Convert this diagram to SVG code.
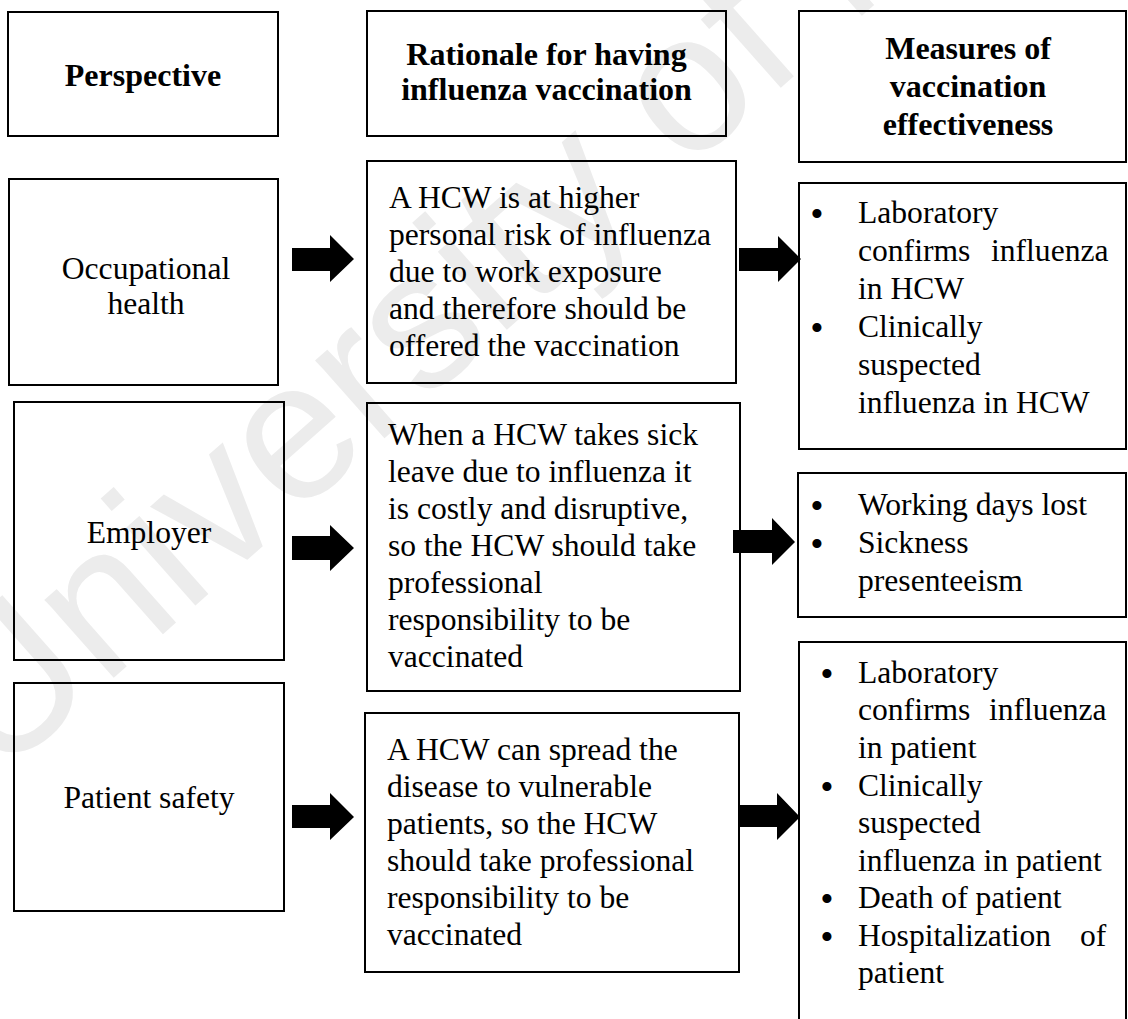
<svg xmlns="http://www.w3.org/2000/svg" width="1128" height="1019" viewBox="0 0 1128 1019">
<style>
.box{fill:none;stroke:#000;stroke-width:2}
.t{font-family:"Liberation Serif","Times New Roman",serif;font-size:31.6px;fill:#000}
.b{font-weight:bold;font-size:32px}
.c{text-anchor:middle}
.bul{font-family:"Liberation Serif","Times New Roman",serif;font-size:38px;fill:#000;text-anchor:middle}
.arrow{fill:#000}
.wm{font-family:"Liberation Sans",Arial,sans-serif;font-size:197px;fill:#ececec}
</style>
<rect width="1128" height="1019" fill="#fff"/>
<g id="watermark">
<text class="wm" transform="translate(-3,781) rotate(-41.5)">University of Malaya</text>
</g>
<g id="header-perspective">
<rect class="box" x="8" y="12" width="270" height="124"/>
<text class="t b c" x="143" y="86">Perspective</text>
</g>
<g id="header-rationale">
<rect class="box" x="367" y="11" width="359" height="125"/>
<text class="t b c" x="546.5" y="65">Rationale for having</text>
<text class="t b c" x="546.5" y="100">influenza vaccination</text>
</g>
<g id="header-measures">
<rect class="box" x="799" y="11" width="327" height="151"/>
<text class="t b c" x="968" y="59">Measures of</text>
<text class="t b c" x="968" y="97">vaccination</text>
<text class="t b c" x="968" y="135">effectiveness</text>
</g>
<g id="node-occupational">
<rect class="box" x="9" y="179" width="269" height="206"/>
<text class="t c" x="146" y="279">Occupational</text>
<text class="t c" x="146" y="314">health</text>
</g>
<g id="node-employer">
<rect class="box" x="14" y="402" width="270" height="258"/>
<text class="t c" x="149" y="543">Employer</text>
</g>
<g id="node-patient">
<rect class="box" x="14" y="683" width="270" height="228"/>
<text class="t c" x="149" y="808">Patient safety</text>
</g>
<g id="rationale-occupational">
<rect class="box" x="367" y="161" width="369" height="222"/>
<text class="t" x="389" y="208">A HCW is at higher</text>
<text class="t" x="389" y="245">personal risk of influenza</text>
<text class="t" x="389" y="282">due to work exposure</text>
<text class="t" x="389" y="319">and therefore should be</text>
<text class="t" x="389" y="356">offered the vaccination</text>
</g>
<g id="rationale-employer">
<rect class="box" x="367" y="403" width="373" height="288"/>
<text class="t" x="388" y="445">When a HCW takes sick</text>
<text class="t" x="388" y="482">leave due to influenza it</text>
<text class="t" x="388" y="519">is costly and disruptive,</text>
<text class="t" x="388" y="556">so the HCW should take</text>
<text class="t" x="388" y="593">professional</text>
<text class="t" x="388" y="630">responsibility to be</text>
<text class="t" x="388" y="667">vaccinated</text>
</g>
<g id="rationale-patient">
<rect class="box" x="365" y="713" width="374" height="259"/>
<text class="t" x="387" y="760">A HCW can spread the</text>
<text class="t" x="387" y="797">disease to vulnerable</text>
<text class="t" x="387" y="834">patients, so the HCW</text>
<text class="t" x="387" y="871">should take professional</text>
<text class="t" x="387" y="908">responsibility to be</text>
<text class="t" x="387" y="945">vaccinated</text>
</g>
<g id="measures-occupational">
<rect class="box" x="799" y="183" width="327" height="266"/>
<text class="bul" x="817" y="227">•</text>
<text class="t" x="858" y="223">Laboratory</text>
<text class="t" x="858" y="261">confirms</text>
<text class="t" x="991" y="261">influenza</text>
<text class="t" x="858" y="299">in HCW</text>
<text class="bul" x="817" y="341">•</text>
<text class="t" x="858" y="337">Clinically</text>
<text class="t" x="858" y="375">suspected</text>
<text class="t" x="858" y="413">influenza in HCW</text>
</g>
<g id="measures-employer">
<rect class="box" x="798" y="473" width="328" height="144"/>
<text class="bul" x="817" y="519">•</text>
<text class="t" x="858" y="515">Working days lost</text>
<text class="bul" x="817" y="557">•</text>
<text class="t" x="858" y="553">Sickness</text>
<text class="t" x="858" y="591">presenteeism</text>
</g>
<g id="measures-patient">
<rect class="box" x="799" y="642" width="327" height="420"/>
<text class="bul" x="827" y="687">•</text>
<text class="t" x="858" y="683">Laboratory</text>
<text class="t" x="858" y="720">confirms</text>
<text class="t" x="989" y="720">influenza</text>
<text class="t" x="858" y="758">in patient</text>
<text class="bul" x="827" y="800">•</text>
<text class="t" x="858" y="796">Clinically</text>
<text class="t" x="858" y="833">suspected</text>
<text class="t" x="858" y="871">influenza in patient</text>
<text class="bul" x="827" y="912">•</text>
<text class="t" x="858" y="908">Death of patient</text>
<text class="bul" x="827" y="950">•</text>
<text class="t" x="858" y="946">Hospitalization</text>
<text class="t" x="1080" y="946">of</text>
<text class="t" x="858" y="983">patient</text>
</g>
<g id="connectors">
<polygon class="arrow" points="292,248 330,248 330,235 354,259 330,282 330,271 292,271"/>
<polygon class="arrow" points="292,536 330,536 330,525 354,548 330,571 330,560 292,560"/>
<polygon class="arrow" points="292,805 330,805 330,793 354,817 330,840 330,828 292,828"/>
<polygon class="arrow" points="739,248 778,248 778,236 801,259 778,282 778,271 739,271"/>
<polygon class="arrow" points="733,530 772,530 772,518 795,542 772,565 772,553 733,553"/>
<polygon class="arrow" points="740,805 777,805 777,793 800,817 777,840 777,827 740,827"/>
</g>
</svg>
